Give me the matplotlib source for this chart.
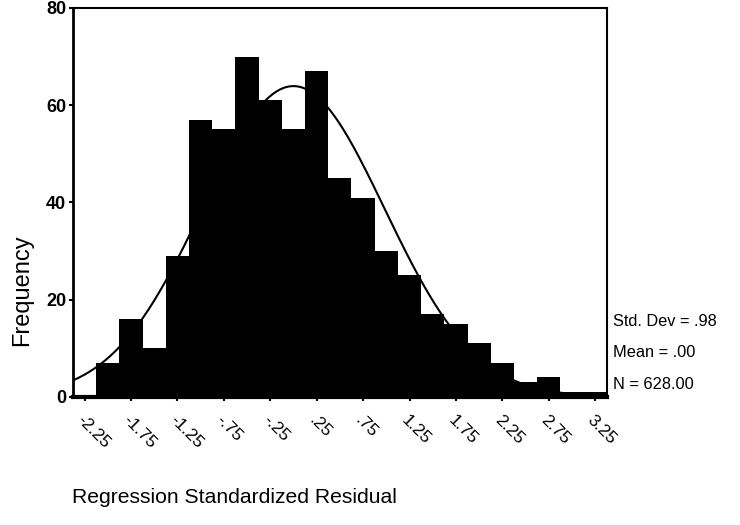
import numpy as np
import matplotlib.pyplot as plt

plt.rcParams['font.family'] = ['Liberation Sans', 'DejaVu Sans']

# Istogramma dei residui standardizzati (centri dei bin, larghezza .25)
centriBin = [-2.25, -2.0, -1.75, -1.5, -1.25, -1.0, -0.75, -0.5, -0.25, 0.0,
             0.25, 0.5, 0.75, 1.0, 1.25, 1.5, 1.75, 2.0, 2.25, 2.5,
             2.75, 3.0, 3.25]
frequenze = [0, 7, 16, 10, 29, 57, 55, 70, 61, 55,
             67, 45, 41, 30, 25, 17, 15, 11, 7, 3,
             4, 1, 1]
larghezzaBin = 0.25

tickValori = [-2.25, -1.75, -1.25, -0.75, -0.25, 0.25, 0.75, 1.25, 1.75, 2.25, 2.75, 3.25]
tickEtichette = ["-2.25", "-1.75", "-1.25", "-.75", "-.25", ".25", ".75",
                 "1.25", "1.75", "2.25", "2.75", "3.25"]

deviazioneStandard = 0.98
media = 0.00
n = 628

fig = plt.figure(figsize=(7.4, 5.25), dpi=100)
ax = fig.add_axes([0.0986, 0.244, 0.7214, 0.741])

ax.bar(centriBin, frequenze, width=larghezzaBin, color="black", edgecolor="black",
       linewidth=0, zorder=3)

# Curva normale
xCurva = np.linspace(-2.375, 3.375, 300)
yCurva = n * larghezzaBin / (deviazioneStandard * np.sqrt(2 * np.pi)) * \
    np.exp(-(xCurva - media) ** 2 / (2 * deviazioneStandard ** 2))
ax.plot(xCurva, yCurva, color="black", linewidth=1.5, zorder=2)

ax.set_xlim(-2.375, 3.375)
ax.set_ylim(0, 80)
ax.set_yticks([0, 20, 40, 60, 80])
ax.set_yticklabels(["0", "20", "40", "60", "80"], fontsize=13, fontweight="bold")
ax.set_xticks(tickValori)
ax.set_xticklabels(tickEtichette, fontsize=12.5, rotation=-45, ha="left",
                   va="top", rotation_mode="anchor")
ax.tick_params(axis="both", direction="out", length=3, width=1.5, color="black")
ax.tick_params(axis="x", pad=8)
ax.tick_params(axis="y", pad=2)

for lato in ["top", "right"]:
    ax.spines[lato].set_linewidth(1.5)
ax.spines["left"].set_linewidth(2)
ax.spines["bottom"].set_linewidth(3)

ax.set_ylabel("Frequency", fontsize=17)
ax.yaxis.set_label_coords(-0.075, 0.274)
fig.text(0.097, 0.053, "Regression Standardized Residual", fontsize=15.2,
         ha="left", va="center")

# Statistiche
fig.text(0.828, 0.388, "Std. Dev = .98", fontsize=11.8, ha="left", va="center")
fig.text(0.828, 0.329, "Mean = .00", fontsize=11.8, ha="left", va="center")
fig.text(0.828, 0.267, "N = 628.00", fontsize=11.8, ha="left", va="center")

fig.savefig("out.png", dpi=100)
